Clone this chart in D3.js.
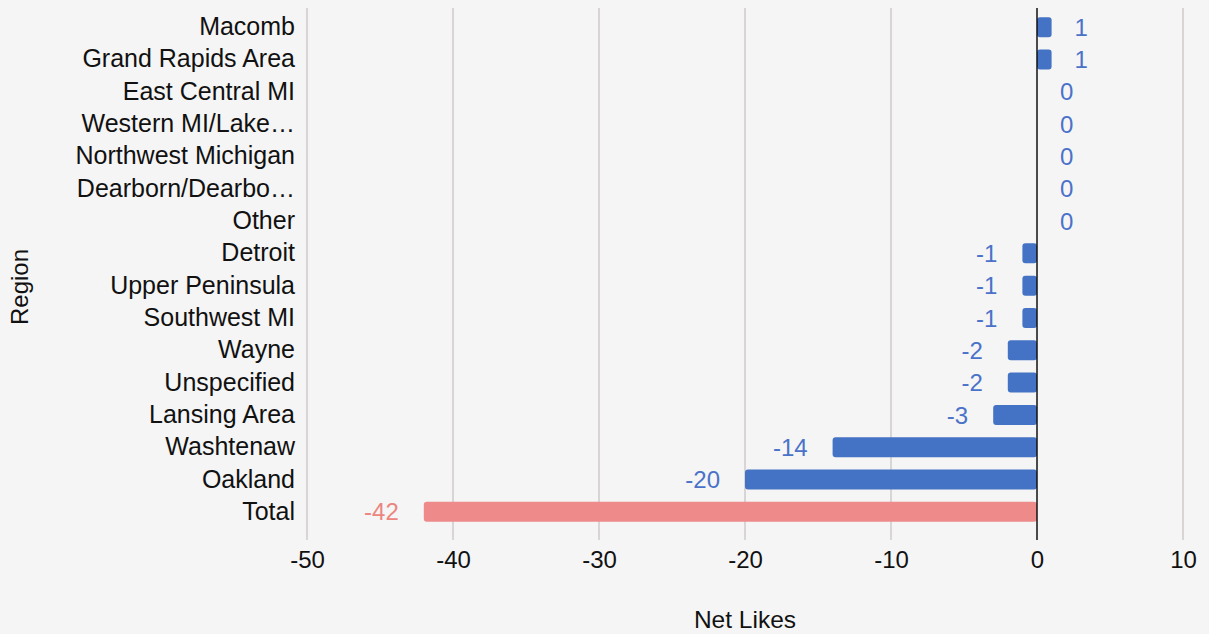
<!DOCTYPE html>
<html>
<head>
<meta charset="utf-8">
<script src="https://cdn.jsdelivr.net/npm/d3@7"></script>
<style>
  html, body { margin: 0; padding: 0; background: #f5f5f5; }
  svg { display: block; font-family: "Liberation Sans", Arial, sans-serif; }
</style>
</head>
<body>
<svg id="chart" width="1209" height="634"></svg>
<script>
// Net likes by region
const regions = [
  "Macomb", "Grand Rapids Area", "East Central MI", "Western MI/Lake\u2026",
  "Northwest Michigan", "Dearborn/Dearbo\u2026", "Other", "Detroit",
  "Upper Peninsula", "Southwest MI", "Wayne", "Unspecified",
  "Lansing Area", "Washtenaw", "Oakland", "Total"
];
const netLikes = [1, 1, 0, 0, 0, 0, 0, -1, -1, -1, -2, -2, -3, -14, -20, -42];
const xTicks = [-50, -40, -30, -20, -10, 0, 10];

const FONT = "Liberation Sans, Arial, sans-serif";
const FS = 24;

const svg = d3.select("#chart");
const margin = { top: 11, right: 26, bottom: 106, left: 307 };
const width = 1209 - margin.left - margin.right;
const height = 634 - margin.top - margin.bottom;

const x = d3.scaleLinear().domain([-50, 10]).range([0, width]);
const y = d3.scaleBand().domain(regions).range([0, height]).paddingInner(0.38).paddingOuter(0.19);

const g = svg.append("g").attr("transform", `translate(${margin.left},${margin.top})`);

// vertical gridlines
g.append("g")
  .selectAll("line")
  .data(xTicks.filter(t => t !== 0))
  .join("line")
  .attr("x1", d => x(d)).attr("x2", d => x(d))
  .attr("y1", -3).attr("y2", height + 12)
  .attr("stroke", "#cfcaca").attr("stroke-width", 1.5);

// x axis tick labels
const xAxis = d3.axisBottom(x).tickValues(xTicks).tickSize(0).tickPadding(23).tickFormat(d => String(d));
g.append("g")
  .attr("transform", `translate(0,${height})`)
  .call(xAxis)
  .call(s => s.select(".domain").remove())
  .selectAll("text")
  .attr("font-size", FS).attr("fill", "#111").attr("font-family", FONT);

// y axis category labels
const yAxis = d3.axisLeft(y).tickSize(0).tickPadding(12);
g.append("g")
  .call(yAxis)
  .call(s => s.select(".domain").remove())
  .selectAll("text")
  .attr("font-size", 25).attr("fill", "#111").attr("font-family", FONT);

const colorOf = d => d === "Total" ? "#ee8a8a" : "#4472c4";
const labelColorOf = d => d === "Total" ? "#ec8580" : "#4a72c8";

// bars
g.append("g")
  .selectAll("rect")
  .data(regions.map((r, i) => ({ r, v: netLikes[i] })).filter(d => d.v !== 0))
  .join("rect")
  .attr("x", d => x(Math.min(0, d.v)))
  .attr("width", d => Math.abs(x(d.v) - x(0)))
  .attr("y", d => y(d.r))
  .attr("height", y.bandwidth())
  .attr("rx", 3)
  .attr("fill", d => colorOf(d.r));

// zero line
g.append("line")
  .attr("x1", x(0)).attr("x2", x(0))
  .attr("y1", -3).attr("y2", height + 12)
  .attr("stroke", "#111").attr("stroke-width", 1.5);

// value labels
g.append("g")
  .selectAll("text")
  .data(regions.map((r, i) => ({ r, v: netLikes[i] })))
  .join("text")
  .attr("x", d => d.v < 0 ? x(d.v) - 25 : x(d.v) + 23)
  .attr("y", d => y(d.r) + y.bandwidth() / 2)
  .attr("dy", "0.36em")
  .attr("text-anchor", d => d.v < 0 ? "end" : "start")
  .attr("font-size", FS)
  .attr("fill", d => labelColorOf(d.r))
  .text(d => d.v);

// axis titles
svg.append("text")
  .attr("x", margin.left + x(-20))
  .attr("y", 628)
  .attr("text-anchor", "middle")
  .attr("font-size", 24.5).attr("fill", "#111")
  .text("Net Likes");

svg.append("text")
  .attr("transform", "translate(28,287) rotate(-90)")
  .attr("text-anchor", "middle")
  .attr("font-size", FS).attr("fill", "#111")
  .text("Region");
</script>
</body>
</html>
